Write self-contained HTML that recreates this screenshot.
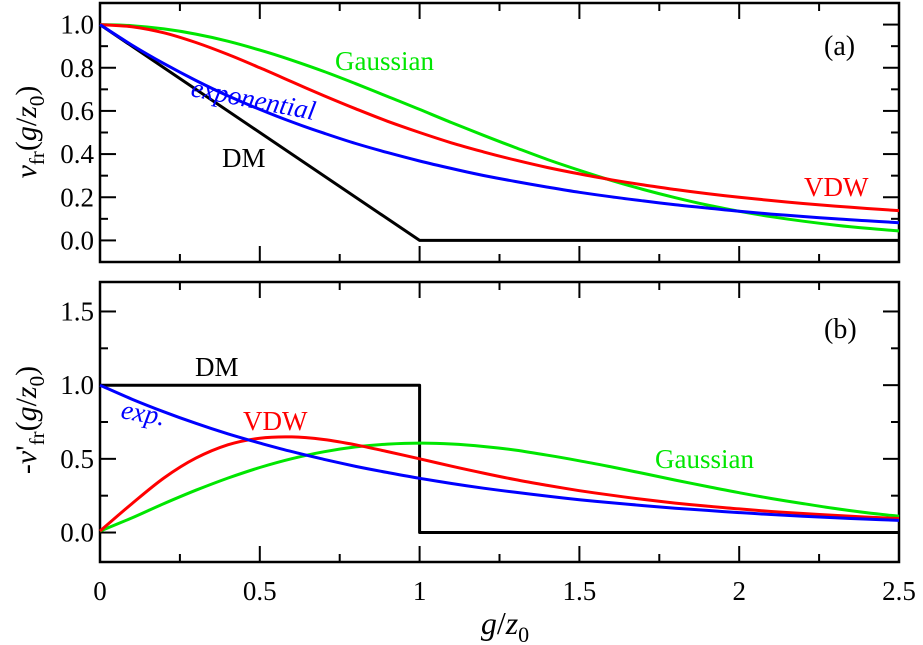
<!DOCTYPE html>
<html><head><meta charset="utf-8"><style>
html,body{margin:0;padding:0;background:#fff;}
svg{display:block;}
text{font-family:"Liberation Serif","Noto Serif CJK SC","DejaVu Serif",serif;}
</style></head><body>
<svg width="923" height="645" viewBox="0 0 923 645" id="chart">
</svg>
<script>
const xs = [0,0.1,0.2,0.3,0.4,0.5,0.6,0.7,0.8,0.9,1.0,1.1,1.2,1.3,1.4,1.5,1.6,1.7,1.8,1.9,2.0,2.1,2.2,2.3,2.4,2.5];
const expA = [1,.905,.819,.741,.670,.607,.549,.497,.449,.407,.368,.333,.301,.273,.247,.223,.202,.183,.165,.150,.135,.122,.111,.100,.091,.082];
const vdwA = [1,.990,.962,.917,.862,.800,.735,.671,.610,.552,.500,.452,.410,.372,.338,.308,.281,.257,.236,.217,.200,.185,.171,.159,.148,.138];
const gauA = [1,.995,.980,.956,.923,.882,.835,.783,.726,.667,.607,.546,.487,.430,.375,.325,.278,.236,.198,.164,.135,.110,.089,.071,.056,.044];
const dmAx = [0,1,2.5];
const dmA = [1,0,0];
const expB = [1,.905,.819,.741,.670,.607,.549,.497,.449,.407,.368,.333,.301,.273,.247,.223,.202,.183,.165,.150,.135,.122,.111,.100,.091,.082];
const vdwB = [0.01,.196,.370,.505,.595,.640,.649,.631,.595,.549,.500,.450,.403,.359,.320,.284,.253,.225,.200,.179,.160,.143,.129,.116,.105,.095];
const gauB = [0.01,.0995,.196,.287,.369,.441,.501,.548,.581,.600,.607,.601,.584,.559,.525,.487,.445,.401,.356,.312,.270,.231,.196,.163,.134,.110];
const dmBx = [0,1,1,2.5];
const dmB = [1,1,0,0];
const xTicks = [0,0.5,1,1.5,2,2.5];
const xTickLabels = ["0","0.5","1","1.5","2","2.5"];
const yTicksA = [0,0.2,0.4,0.6,0.8,1.0];
const yTicksB = [0,0.5,1.0,1.5];

const svg = document.getElementById('chart');
const NS = 'http://www.w3.org/2000/svg';
function el(tag, attrs, parent){const e=document.createElementNS(NS,tag);for(const k in attrs)e.setAttribute(k,attrs[k]);(parent||svg).appendChild(e);return e;}
const L=100,R=899;
const X = v => L + (R-L)*v/2.5;
const panels = [
 {name:'a',top:3,bot:262,min:-0.1,max:1.1,ticks:yTicksA,minor:0.1},
 {name:'b',top:282,bot:562,min:-0.2,max:1.7,ticks:yTicksB,minor:0.25}
];
panels.forEach(p=>{p.Y=v=>p.bot-(p.bot-p.top)*(v-p.min)/(p.max-p.min);});

function pathD(P, smooth){
  let d='M'+P[0][0].toFixed(1)+','+P[0][1].toFixed(1);
  for(let i=0;i<P.length-1;i++){
    if(!smooth){d+=' L'+P[i+1][0].toFixed(1)+','+P[i+1][1].toFixed(1);continue;}
    const p0=P[Math.max(i-1,0)],p1=P[i],p2=P[i+1],p3=P[Math.min(i+2,P.length-1)];
    const c1=[p1[0]+(p2[0]-p0[0])/6,p1[1]+(p2[1]-p0[1])/6];
    const c2=[p2[0]-(p3[0]-p1[0])/6,p2[1]-(p3[1]-p1[1])/6];
    d+=' C'+c1.map(v=>v.toFixed(1))+' '+c2.map(v=>v.toFixed(1))+' '+p2[0].toFixed(1)+','+p2[1].toFixed(1);
  }
  return d;
}
function drawLine(p, xv, yv, color, name, smooth){
  const P = xv.map((x,i)=>[X(x),p.Y(yv[i])]);
  const e = el('path',{d:pathD(P,smooth),fill:'none',stroke:color,'stroke-width':3,'stroke-linejoin':'round'});
  
  
}
panels.forEach(p=>{
  const g = el('g',{});
  
  
  for(let v=0; v<=2.5001; v+=0.25){
    const major = Math.abs(v*2-Math.round(v*2))<1e-6;
    const len = major?16:8;
    el('line',{x1:X(v),x2:X(v),y1:p.bot,y2:p.bot-len,stroke:'#000','stroke-width':2},g);
    el('line',{x1:X(v),x2:X(v),y1:p.top,y2:p.top+len,stroke:'#000','stroke-width':2},g);
  }
  for(let v=Math.ceil(p.min/p.minor-1e-6)*p.minor; v<=p.max+1e-6; v+=p.minor){
    const major = p.ticks.some(t=>Math.abs(t-v)<1e-6);
    const len = major?16:8;
    el('line',{x1:L,x2:L+len,y1:p.Y(v),y2:p.Y(v),stroke:'#000','stroke-width':2},g);
    el('line',{x1:R,x2:R-len,y1:p.Y(v),y2:p.Y(v),stroke:'#000','stroke-width':2},g);
  }
  p.ticks.forEach(t=>{
    const tx = el('text',{x:L-6,y:p.Y(t)+9,'text-anchor':'end','font-size':27},g);
    tx.textContent = t.toFixed(1);
    
    
  });
  const box = el('rect',{x:L,y:p.top,width:R-L,height:p.bot-p.top,fill:'none',stroke:'#000','stroke-width':2.5},g);
  
  
});
xTicks.forEach((t,i)=>{
  const tx = el('text',{x:X(t),y:600,'text-anchor':'middle','font-size':27});
  tx.textContent = xTickLabels[i];
  
  
});

const A=panels[0], B=panels[1];
drawLine(A, dmAx, dmA, '#000', 'dm-line-a', false);
drawLine(A, xs, gauA, '#00e600', 'gaussian-line-a', true);
drawLine(A, xs, vdwA, '#ff0000', 'vdw-line-a', true);
drawLine(A, xs, expA, '#0000ff', 'exponential-line-a', true);
drawLine(B, dmBx, dmB, '#000', 'dm-line-b', false);
drawLine(B, xs, gauB, '#00e600', 'gaussian-line-b', true);
drawLine(B, xs, vdwB, '#ff0000', 'vdw-line-b', true);
drawLine(B, xs, expB, '#0000ff', 'exponential-line-b', true);
</script>
<svg width="923" height="645" style="position:absolute;left:0;top:0">
  <text x="824" y="55" font-size="28">(a)</text>
  <text x="824" y="338" font-size="28">(b)</text>
  <text x="335" y="70" font-size="27" fill="#00e600">Gaussian</text>
  <text x="0" y="0" font-size="27" fill="#0000ff" font-style="italic" transform="translate(190,96) rotate(11)">exponential</text>
  <text x="222" y="167" font-size="27">DM</text>
  <text x="804" y="196" font-size="27" fill="#ff0000">VDW</text>
  <text x="195" y="376" font-size="27">DM</text>
  <text x="0" y="0" font-size="27" fill="#0000ff" font-style="italic" transform="translate(120,418) rotate(10)">exp.</text>
  <text x="243" y="430" font-size="27" fill="#ff0000">VDW</text>
  <text x="655" y="468" font-size="27" fill="#00e600">Gaussian</text>
  <text x="0" y="0" font-size="30" text-anchor="middle" transform="translate(36,132) rotate(-90)"><tspan font-style="italic">v</tspan><tspan font-size="21" dy="8">fr</tspan><tspan dy="-8">(</tspan><tspan font-style="italic">g</tspan>/<tspan font-style="italic">z</tspan><tspan font-size="21" dy="8">0</tspan><tspan dy="-8">)</tspan></text>
  <text x="0" y="0" font-size="30" text-anchor="middle" transform="translate(36,420) rotate(-90)">-<tspan font-style="italic">v</tspan>'<tspan font-size="21" dy="8">fr</tspan><tspan dy="-8">(</tspan><tspan font-style="italic">g</tspan>/<tspan font-style="italic">z</tspan><tspan font-size="21" dy="8">0</tspan><tspan dy="-8">)</tspan></text>
  <text x="505" y="634" font-size="32" text-anchor="middle"><tspan font-style="italic">g</tspan>/<tspan font-style="italic">z</tspan><tspan font-size="22" dy="8">0</tspan></text>
</svg>
</body></html>
